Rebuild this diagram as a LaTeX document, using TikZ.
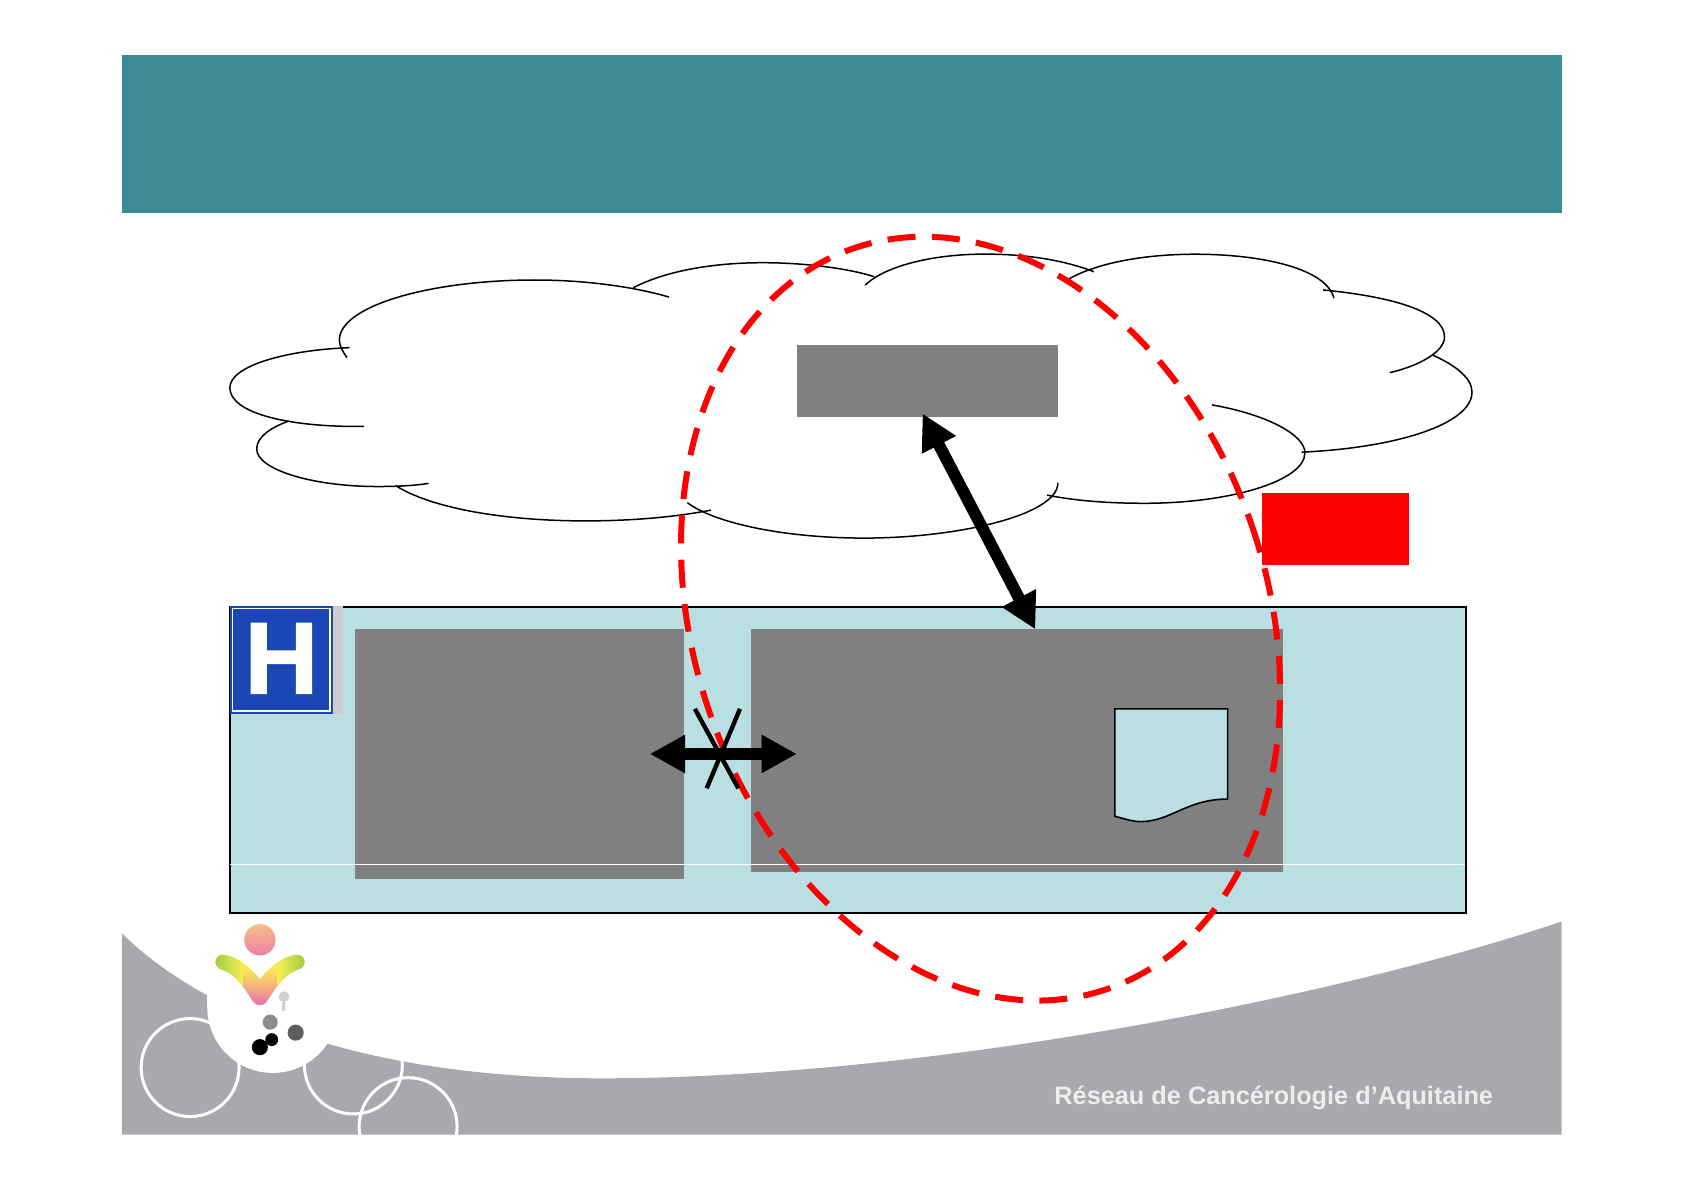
\documentclass[tikz,border=0pt]{standalone}
\usepackage{fontspec}
\setmainfont{Liberation Sans}
\newfontfamily\signfont[FakeBold=1.5]{Liberation Sans Bold}
\usetikzlibrary{arrows.meta,fit,shapes.geometric}
\definecolor{banner}{HTML}{3D8B94}
\definecolor{panel}{HTML}{B9DFE2}
\definecolor{midgray}{HTML}{808080}
\definecolor{foot}{HTML}{ABA8AD}
\definecolor{signblue}{HTML}{1A47B4}
\definecolor{lgpink}{HTML}{E874A8}
\definecolor{lgorange}{HTML}{F5B080}
\definecolor{lgyellow}{HTML}{F6EE50}
\definecolor{lggreen}{HTML}{A0CC45}
\definecolor{lbpink}{HTML}{EA7CA8}
\definecolor{lborange}{HTML}{F6C088}
\pgfdeclareverticalshading{vlogo}{100bp}{color(0bp)=(lgpink);color(28bp)=(lgpink);color(44bp)=(lgorange);color(63bp)=(lgyellow);color(100bp)=(lgyellow)}
\pgfdeclareverticalshading{vball}{100bp}{color(0bp)=(lbpink);color(25bp)=(lbpink);color(75bp)=(lborange);color(100bp)=(lborange)}
\tikzset{
  cloudline/.style={draw=black,line width=0.75pt},
  graybox/.style={fill=midgray,draw=none,inner sep=0pt,rectangle},
  panelbox/.style={fill=panel,draw=black,line width=0.9pt,inner sep=0pt,rectangle},
  redbox/.style={fill=red,draw=none,inner sep=0pt,rectangle},
  bigarrow/.style={line width=5.9pt,{Triangle[length=17.7pt,width=18pt]}-{Triangle[length=17.7pt,width=18pt]}},
  crossline/.style={line width=2.2pt,black},
  reddash/.style={draw=red,line width=3pt,dash pattern=on 14pt off 8.2pt},
  ringline/.style={draw=white,line width=1.5pt},
}
\begin{document}
\begin{tikzpicture}[x=0.537pt,y=-0.537pt]
\useasboundingbox (0,0) rectangle (1568,1108);
% banner
\fill[banner] (113.5,51) rectangle (1454,198);
% footer
\fill[foot] (113.5,869) .. controls (180,935) and (320,1004) .. (560,1004) .. controls (860,1004) and (1240,930) .. (1454,858) -- (1454,1056.5) -- (113.5,1056.5) -- cycle;
\begin{scope}
\clip (113.5,850) rectangle (1454,1056.5);
\draw[ringline] (177,994) circle[radius=45.6];
\draw[ringline] (329,991.6) circle[radius=45.6];
\draw[ringline] (380,1049) circle[radius=45.6];
\end{scope}
\fill[white] (254,938) circle[radius=61];
\fill[white] (193,860) rectangle (315,938);
\shade[shading=vball] (242,875) circle[radius=14.6];
\begin{scope}
\clip (242,911.6) .. controls (233,900) and (218,889) .. (207,889) .. controls (202,889) and (200.8,893) .. (200.8,896) .. controls (200.8,900) and (204,902) .. (207,903) .. controls (222,908) and (230,925) .. (236,933) .. controls (239,937) and (245,937) .. (248,933) .. controls (254,925) and (262,908) .. (277,903) .. controls (280,902) and (283.6,900) .. (283.6,896) .. controls (283.6,893) and (282,889) .. (277,889) .. controls (266,889) and (251,900) .. (242,911.6) -- cycle;
\shade[shading=vlogo] (200,889) rectangle (284,937);
\shade[left color=lggreen,right color=lgyellow] (200,889) rectangle (226,918);
\shade[left color=lgyellow,right color=lggreen] (258,889) rectangle (284,918);
\end{scope}
\fill[black!18] (264.4,928) circle[radius=5];
\draw[black!18,line width=1.6pt] (264.4,930) -- (264,941);
\fill[black!45] (251.6,951.7) circle[radius=7];
\fill[black!63] (275.3,961.5) circle[radius=7.5];
\fill[black] (242,975) circle[radius=7.5];
\fill[black] (253,968) circle[radius=6];
\node[text=white!93!black,font=\bfseries\fontsize{12.65}{15}\selectfont,inner sep=0pt] (foottext) at (1186,1022.5) {Réseau de Cancérologie d’Aquitaine};
% cloud
\draw[cloudline] (339,397) .. controls (270,398) and (214,385) .. (214,361) .. controls (214,341) and (265,326) .. (325.5,323.7);
\draw[cloudline] (323,333) .. controls (319,327) and (316,322) .. (316,316.6) .. controls (316,285) and (400,260.7) .. (498,260.7) .. controls (545,260.7) and (590,267) .. (623,276.6);
\draw[cloudline] (589.5,268) .. controls (620,252) and (665,244.6) .. (710,244.6) .. controls (750,244.6) and (790,250) .. (814,257.6);
\draw[cloudline] (805.6,265.4) .. controls (825,247) and (870,236.6) .. (917,236.6) .. controls (955,236.6) and (990,242) .. (1018.6,253);
\draw[cloudline] (993.6,260.7) .. controls (1020,245) and (1065,236.7) .. (1112.6,236.7) .. controls (1175,236.7) and (1235,250) .. (1242,277.6);
\draw[cloudline] (1232,270) .. controls (1295,276) and (1345,290) .. (1345,313.6) .. controls (1345,328) and (1320,341) .. (1294,347);
\draw[cloudline] (1334,330.6) .. controls (1355,340) and (1370.6,352) .. (1370.6,365) .. controls (1370.6,395) and (1300,417) .. (1212,421);
\draw[cloudline] (1128.5,377) .. controls (1180,386) and (1215,405) .. (1215,421.6) .. controls (1215,448) and (1145,468.6) .. (1066,468.6) .. controls (1030,468.6) and (1000,466) .. (975,461);
\draw[cloudline] (985,449.6) .. controls (985,480) and (890,501) .. (805,501) .. controls (730,501) and (665,487) .. (640,468);
\draw[cloudline] (662,475) .. controls (625,482) and (585,485) .. (545,485) .. controls (465,485) and (400,472) .. (369,452.5);
\draw[cloudline] (399,450) .. controls (385,452.5) and (365,453) .. (352,453) .. controls (290,453) and (239,437) .. (239,418) .. controls (239,407) and (252,398) .. (269,392);
% boxes
\node[graybox,fit={(742,321)(985,388)}] (server) {};
\node[redbox,fit={(1175,459)(1312,526)}] (redrect) {};
\node[panelbox,fit={(214,565)(1365,850)}] (hospital) {};
\fill[black!20] (310,564.5) rectangle (319,665);
\node[graybox,fit={(331,586)(637,818)}] (leftbox) {};
\node[graybox,fit={(699,586)(1195,812)}] (rightbox) {};
\draw[white,line width=0.4pt] (214.5,804.5) -- (1364.5,804.5);
% document
\draw[fill=panel,draw=black,line width=0.8pt] (1038,660) -- (1143,660) -- (1143,744) .. controls (1105,744) and (1090,765) .. (1062,765) .. controls (1054,765) and (1046,762) .. (1038,760) -- cycle;
% H sign
\fill[signblue] (214,564) rectangle (310,665);
\draw[white,line width=0.9pt] (216.5,566.5) rectangle (307.5,661.7);
\node[text=white,font=\signfont\fontsize{51}{51}\selectfont,inner sep=0pt] (hsign) at (262,613) {H};
% red dashed ellipse
\draw[reddash,rotate around={18.9:(913,576)}] (913,576) ellipse[x radius=267,y radius=364.5];
% arrows
\coordinate (srvtip) at (859,385);
\coordinate (bigtip) at (964,586);
\coordinate (lefttip) at (605,702);
\coordinate (righttip) at (742,702);
\draw[bigarrow] (srvtip) -- (bigtip);
\draw[bigarrow] (lefttip) -- (righttip);
\draw[crossline] (647,660) -- (687.5,734);
\draw[crossline] (689,660) -- (658,734);
\end{tikzpicture}
\end{document}
